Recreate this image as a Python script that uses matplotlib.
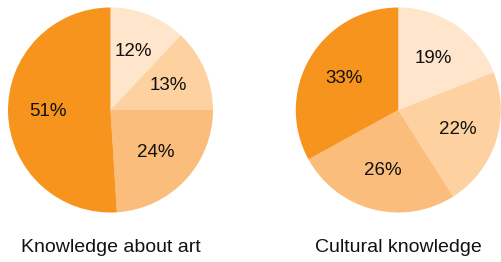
import matplotlib
matplotlib.use("Agg")
import matplotlib.pyplot as plt

plt.rcParams["font.family"] = ["Liberation Sans", "DejaVu Sans"]

titles = ["Knowledge about art", "Cultural knowledge"]
art_values = [12, 13, 24, 51]
culture_values = [19, 22, 26, 33]
colors = ["#FEE5CB", "#FDD2A0", "#FBBD7B", "#F7941D"]

W, H = 501, 262
fig = plt.figure(figsize=(W / 100, H / 100), dpi=100)
fig.patch.set_facecolor("white")

# pie centres / radius in pixels (from top-left)
centres = [(110.5, 110.0), (398.3, 110.0)]
r = 102.5

for (cx, cy), vals, title in zip(centres, [art_values, culture_values], titles):
    ax = fig.add_axes([(cx - r) / W, (H - cy - r) / H, 2 * r / W, 2 * r / H])
    ax.pie(vals, colors=colors, startangle=90, counterclock=False,
           radius=1.0, autopct=lambda p: "%d%%" % round(p), pctdistance=0.61,
           textprops=dict(fontsize=13.5, color="#111111"),
           wedgeprops=dict(linewidth=0))
    ax.set_xlim(-1, 1)
    ax.set_ylim(-1, 1)
    ax.set_aspect("equal")
    ax.axis("off")
    fig.text(cx / W, (H - 248) / H, title, ha="center", va="center",
             fontsize=14, color="#111111")

fig.savefig("out.png", dpi=100)
